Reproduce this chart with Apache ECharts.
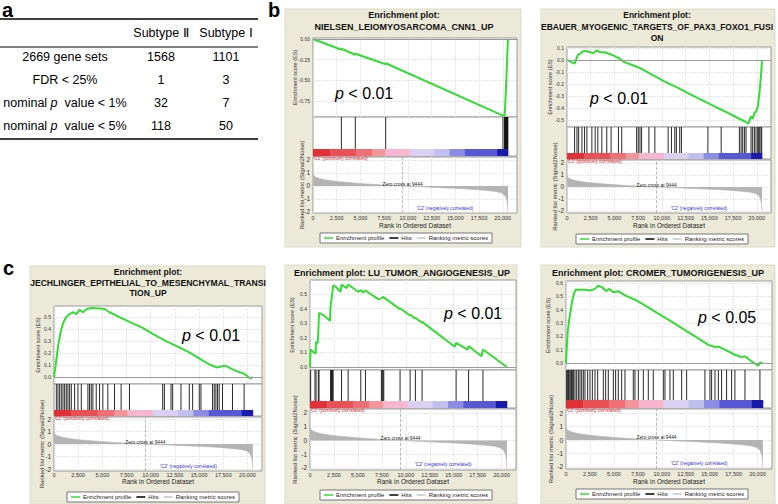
<!DOCTYPE html>
<html>
<head>
<meta charset="utf-8">
<title>GSEA enrichment plots</title>
<script src="https://cdn.jsdelivr.net/npm/echarts@6.0.0/dist/echarts.min.js"></script>
<style>
html,body{margin:0;padding:0;background:#ffffff;}
#chart{width:778px;height:504px;}
</style>
</head>
<body>
<div id="chart"></div>
<script>
// ================= DATA =================
const panelLetters = ['a', 'b', 'c'];

const tableColumns = ['Subtype Ⅱ', 'Subtype Ⅰ'];
const tableRowLabels = ['2669 gene sets', 'FDR < 25%', 'nominal p value < 1%', 'nominal p value < 5%'];
const subtype2Counts = [1568, 1, 32, 118];
const subtype1Counts = [1101, 3, 7, 50];

const rankTicks = [0, 2500, 5000, 7500, 10000, 12500, 15000, 17500, 20000];
const metricTicks = [-2, -1, 0, 1, 2];
const zeroCross = 9444;

// ranked list metric (Signal2Noise), shared by all plots
const metricRanks  = [0, 40, 120, 300, 600, 1000, 1600, 2500, 3500, 4800, 6200, 7800, 9444, 11000, 12500, 14000, 15500, 17000, 18300, 19300, 19900, 20250, 20420, 20500, 20550];
const metricValues = [1.05, 0.9, 0.78, 0.68, 0.6, 0.52, 0.44, 0.35, 0.28, 0.2, 0.13, 0.06, 0, -0.05, -0.1, -0.15, -0.2, -0.27, -0.35, -0.43, -0.55, -0.75, -1.05, -1.45, -2.0];

// colour bar under the hits
const colorBarEdges  = [0, 1800, 4500, 6200, 7600, 10200, 12800, 14400, 16000, 19400, 20550];
const colorBarColors = ['#e23039', '#ea5055', '#ef6f74', '#f39599', '#f7b6ce', '#dad1f2', '#c0bff0', '#8c8ce6', '#5858d6', '#1a1aae'];

// ---- b, left: NIELSEN ----
const titleNielsen = ['Enrichment plot:', 'NIELSEN_LEIOMYOSARCOMA_CNN1_UP'];
const esNielsen = [[0,0],[2990,-0.13],[3000,-0.118],[4460,-0.19],[4470,-0.178],[7660,-0.305],[7670,-0.293],[20020,-0.925],[20030,-0.915],[20180,-0.93],[20250,-0.82],[20330,-0.62],[20400,-0.42],[20460,-0.25],[20510,-0.1],[20550,0]];
const hitsNielsen = [2990, 4460, 7660, 20020, 20180, 20220, 20260, 20300, 20340, 20380, 20420, 20460, 20500, 20540];
const esTicksNielsen = [0, -0.25, -0.5, -0.75];
const pNielsen = 'p < 0.01';

// ---- b, right: EBAUER ----
const titleEbauer = ['Enrichment plot:', 'EBAUER_MYOGENIC_TARGETS_OF_PAX3_FOXO1_FUSI', 'ON'];
const esEbauer = [[0,0],[500,-0.02],[800,-0.03],[950,0.0],[1150,0.045],[1400,0.053],[1650,0.072],[2100,0.072],[2450,0.064],[2800,0.058],[3150,0.08],[3500,0.064],[4000,0.064],[4700,0.044],[5400,0.017],[6100,-0.02],[6800,-0.04],[7700,-0.067],[8900,-0.12],[10300,-0.18],[11700,-0.233],[13100,-0.29],[14500,-0.345],[15900,-0.4],[16950,-0.44],[18000,-0.483],[18700,-0.51],[19100,-0.53],[19400,-0.47],[19570,-0.49],[19750,-0.44],[19920,-0.43],[20100,-0.39],[20200,-0.33],[20310,-0.25],[20420,-0.15],[20500,-0.07],[20550,0]];
const hitsEbauer = [800, 1050, 1225, 1575, 1850, 2100, 2620, 2970, 3250, 3670, 4190, 4650, 5420, 5770, 7340, 7510, 7690, 7860, 8630, 9260, 10660, 11010, 11360, 11530, 11880, 12060, 14850, 16250, 18170, 18350, 18520, 18700, 18870, 19400, 19570, 19750, 19920, 20100, 20200, 20310, 20450, 20520];
const esTicksEbauer = [0.1, 0, -0.1, -0.2, -0.3, -0.4, -0.5];
const pEbauer = 'p < 0.01';

// ---- c, left: JECHLINGER ----
const titleJechlinger = ['Enrichment plot:', 'JECHLINGER_EPITHELIAL_TO_MESENCHYMAL_TRANSI', 'TION_UP'];
const esJechlinger = [[0,0],[240,0.14],[410,0.25],[580,0.33],[760,0.4],[1000,0.46],[1270,0.5],[1615,0.525],[1960,0.54],[2300,0.525],[2645,0.56],[2990,0.54],[3400,0.567],[3850,0.575],[4700,0.572],[5220,0.567],[5740,0.54],[6770,0.5],[8140,0.447],[9170,0.41],[10200,0.36],[11580,0.3],[12950,0.247],[13985,0.206],[14840,0.164],[15500,0.13],[16200,0.1],[16800,0.08],[17400,0.09],[17700,0.095],[18300,0.07],[19000,0.045],[19600,0.03],[20100,0.0],[20300,-0.01],[20550,0]];
const hitsJechlinger = [240, 410, 585, 755, 930, 1100, 1270, 1440, 1615, 1790, 2130, 2475, 2820, 3505, 3675, 3850, 4020, 4365, 4710, 5050, 5565, 6255, 6940, 7800, 11235, 11410, 12095, 12265, 13125, 13985, 14330, 15015, 15190, 16390, 16560, 16735, 16905, 17075, 17420, 18450, 19650];
const esTicksJechlinger = [0, 0.1, 0.2, 0.3, 0.4, 0.5];
const pJechlinger = 'p < 0.01';

// ---- c, middle: LU ----
const titleLu = ['Enrichment plot: LU_TUMOR_ANGIOGENESIS_UP'];
const esLu = [[0,0],[70,0.12],[350,0.103],[590,0.09],[630,0.17],[800,0.165],[870,0.24],[940,0.37],[1400,0.355],[2080,0.316],[2150,0.42],[2260,0.47],[2420,0.56],[2670,0.55],[3190,0.515],[3290,0.565],[3810,0.54],[3980,0.565],[5020,0.515],[5300,0.527],[5540,0.51],[5790,0.524],[7100,0.465],[7450,0.47],[7620,0.48],[9350,0.398],[9400,0.402],[10400,0.354],[10450,0.358],[10950,0.333],[11000,0.337],[11650,0.305],[11700,0.309],[15100,0.138],[15250,0.165],[16450,0.118],[16550,0.144],[17900,0.073],[18050,0.12],[20550,0]];
const hitsLu = [70, 520, 630, 870, 940, 2150, 2200, 2260, 2340, 2420, 3290, 3980, 5300, 5790, 7450, 7540, 7620, 7700, 9400, 10450, 11000, 11700, 15250, 16550, 18050];
const esTicksLu = [0, 0.1, 0.2, 0.3, 0.4, 0.5];
const pLu = 'p < 0.01';

// ---- c, right: CROMER ----
const titleCromer = ['Enrichment plot: CROMER_TUMORIGENESIS_UP'];
const esCromer = [[0,0],[70,0.1],[175,0.235],[310,0.31],[490,0.395],[660,0.47],[835,0.52],[1010,0.55],[1290,0.548],[1980,0.548],[2500,0.543],[3025,0.555],[3375,0.58],[3720,0.568],[4245,0.538],[4490,0.555],[4940,0.53],[5460,0.538],[6155,0.506],[7200,0.474],[8240,0.432],[9630,0.37],[11025,0.31],[12415,0.247],[13810,0.185],[14850,0.136],[15550,0.12],[15900,0.123],[16590,0.1],[17630,0.062],[18330,0.045],[18680,0.05],[19370,0.012],[20070,-0.02],[20240,0.005],[20550,0]];
const hitsCromer = [70, 175, 245, 315, 420, 520, 590, 695, 800, 940, 1115, 1290, 1460, 1635, 1810, 1980, 2260, 2500, 2750, 3025, 3305, 3895, 4140, 4415, 4940, 5180, 5460, 5810, 6155, 7025, 7200, 7550, 8070, 8590, 9110, 10155, 10330, 10850, 11200, 12070, 12590, 14500, 15025, 15200, 15550, 15900, 16240, 16760, 17285, 17630, 18680, 20240];
const esTicksCromer = [0, 0.1, 0.2, 0.3, 0.4, 0.5, 0.6];
const pCromer = 'p < 0.05';

const legendNames = ['Enrichment profile', 'Hits', 'Ranking metric scores'];

// ================= LAYOUT / STYLE =================
const FONT = 'Arial, "Liberation Sans", Helvetica, sans-serif';
const BEIGE = '#ebe9d8';
const GREEN = '#33dd33';
const rankMax = 21500;

const plots = [
  {title: titleNielsen,    es: esNielsen,    hits: hitsNielsen,    esTicks: esTicksNielsen,    dec: 2, p: pNielsen},
  {title: titleEbauer,     es: esEbauer,     hits: hitsEbauer,     esTicks: esTicksEbauer,     dec: 1, p: pEbauer},
  {title: titleJechlinger, es: esJechlinger, hits: hitsJechlinger, esTicks: esTicksJechlinger, dec: 1, p: pJechlinger},
  {title: titleLu,         es: esLu,         hits: hitsLu,         esTicks: esTicksLu,         dec: 1, p: pLu},
  {title: titleCromer,     es: esCromer,     hits: hitsCromer,     esTicks: esTicksCromer,     dec: 1, p: pCromer}
];

const layouts = [
  {box:[285,9,236,238], left:313, width:204, es:[38,79], hits:[117,39], rank:[157,56], esRange:[-0.942,0.012], rkRange:[-2.08,2.23], bar:7, titleX:404, titleY:15, titleStep:12, titleSize:9, p:[335,93], legend:[402,233], esGap:15, rkGap:8, lblMargin:2, nameGap:9},
  {box:[541,9,234,238], left:567, width:204, es:[47,80], hits:[127,32], rank:[160,53], esRange:[-0.558,0.108], rkRange:[-2.17,2.25], bar:6, titleX:657, titleY:15, titleStep:11.5, titleSize:8.5, p:[590,98], legend:[658,234], esGap:14, rkGap:9, lblMargin:2, nameGap:9},
  {box:[30,266,235,238], left:54, width:208, es:[306,78], hits:[384,32], rank:[417,54], esRange:[-0.058,0.592], rkRange:[-2.16,2.16], bar:6, titleX:148, titleY:272, titleStep:10.5, titleSize:8.6, p:[182,335], legend:[149,492], esGap:13, rkGap:9, lblMargin:1, nameGap:7},
  {box:[285,265,232,239], left:310, width:206, es:[280,90], hits:[370,38], rank:[409,61], esRange:[-0.021,0.596], rkRange:[-2.15,2.29], bar:7, titleX:402, titleY:273, titleStep:11, titleSize:9, p:[444,313], legend:[402,490], esGap:15, rkGap:12, lblMargin:1.5, nameGap:8},
  {box:[541,265,234,239], left:566, width:206, es:[281,89], hits:[370,38], rank:[409,60], esRange:[-0.052,0.614], rkRange:[-2.15,2.30], bar:8, titleX:658, titleY:273, titleStep:11, titleSize:9, p:[698,317], legend:[658,489], esGap:15, rkGap:12, lblMargin:2, nameGap:9}
];

const panelLetterPos = [[2,0], [268,0], [3,258]];
const table = {x0:0, x1:258, colX:[65,161,226], headerY:33, rowY0:57, rowStep:23, rules:[[19,1.6],[47,1],[139,1.6]], fontSize:12.5};

// ================= BUILD OPTION =================
const grids = [], xAxes = [], yAxes = [], series = [], legends = [], graphics = [];

function richItalicP(text, size) {
  const idx = text.indexOf(' p ');
  let t;
  if (text.indexOf('p ') === 0) t = '{i|p}{n|' + text.slice(1) + '}';
  else if (idx >= 0) t = '{n|' + text.slice(0, idx + 1) + '}{i|p}{n|  ' + text.slice(idx + 3) + '}';
  else t = '{n|' + text + '}';
  return {
    text: t,
    rich: {
      n: {fontSize: size, fontFamily: FONT, fill: '#000'},
      i: {fontSize: size, fontFamily: FONT, fontStyle: 'italic', fill: '#000'}
    }
  };
}

const gridStyle = {show: true, backgroundColor: '#ffffff', borderColor: '#9a9a9a', borderWidth: 1, containLabel: false, outerBoundsMode: 'none'};
const gridLine = {show: true, lineStyle: {color: '#dedede', type: 'dotted', width: 1}};

plots.forEach((pl, k) => {
  const L = layouts[k];
  const gi = grids.length;
  grids.push(Object.assign({left: L.left, top: L.es[0], width: L.width, height: L.es[1]}, gridStyle));
  grids.push(Object.assign({left: L.left, top: L.hits[0], width: L.width, height: L.hits[1]}, gridStyle));
  grids.push(Object.assign({left: L.left, top: L.rank[0], width: L.width, height: L.rank[1]}, gridStyle));

  const xBase = {type: 'value', min: 0, max: rankMax, axisLine: {show: false}, axisTick: {show: false, customValues: rankTicks}};
  xAxes.push(Object.assign({}, xBase, {gridIndex: gi, axisLabel: {show: false, customValues: rankTicks}, splitLine: gridLine}));
  xAxes.push(Object.assign({}, xBase, {gridIndex: gi + 1, axisLabel: {show: false}, splitLine: {show: false}}));
  xAxes.push(Object.assign({}, xBase, {
    gridIndex: gi + 2,
    axisLabel: {show: true, customValues: rankTicks, fontSize: 5.5, color: '#333', margin: L.lblMargin, fontFamily: FONT,
      formatter: v => Number(v).toLocaleString('en-US')},
    splitLine: gridLine,
    name: 'Rank in Ordered Dataset', nameLocation: 'middle', nameGap: L.nameGap, nameMoveOverlap: false,
    nameTextStyle: {fontSize: 6.5, color: '#222', fontFamily: FONT}
  }));

  yAxes.push({
    type: 'value', gridIndex: gi, min: L.esRange[0], max: L.esRange[1],
    axisLine: {show: false}, axisTick: {show: false, customValues: pl.esTicks},
    axisLabel: {customValues: pl.esTicks, fontSize: 5, color: '#333', margin: 3, fontFamily: FONT, formatter: v => Number(v).toFixed(pl.dec)},
    splitLine: gridLine,
    name: 'Enrichment score (ES)', nameLocation: 'middle', nameGap: L.esGap, nameRotate: 90, nameMoveOverlap: false,
    nameTextStyle: {fontSize: 5.5, color: '#333', fontFamily: FONT}
  });
  yAxes.push({type: 'value', gridIndex: gi + 1, min: 0, max: 1, show: false});
  yAxes.push({
    type: 'value', gridIndex: gi + 2, min: L.rkRange[0], max: L.rkRange[1],
    axisLine: {show: false}, axisTick: {show: false, customValues: metricTicks},
    axisLabel: {customValues: metricTicks, fontSize: 6.5, color: '#333', margin: 3, fontFamily: FONT},
    splitLine: gridLine,
    name: 'Ranked list metric (Signal2Noise)', nameLocation: 'middle', nameGap: L.rkGap, nameRotate: 90, nameMoveOverlap: false,
    nameTextStyle: {fontSize: 6, color: '#333', fontFamily: FONT}
  });

  const barFrac = L.bar / L.hits[1];

  // enrichment profile
  series.push({
    type: 'line', name: legendNames[0], xAxisIndex: gi, yAxisIndex: gi,
    data: pl.es, showSymbol: false, symbol: 'none', z: 4,
    lineStyle: {color: GREEN, width: 2}, itemStyle: {color: GREEN},
    markLine: {silent: true, symbol: ['none', 'none'], label: {show: false},
      lineStyle: {color: '#9a9a9a', type: 'solid', width: 1}, data: [{yAxis: 0}]}
  });

  // hits
  series.push({
    type: 'custom', name: legendNames[1], xAxisIndex: gi + 1, yAxisIndex: gi + 1,
    itemStyle: {color: '#000'},
    data: pl.hits.map(h => [h, 1]),
    renderItem: (params, api) => {
      const x = api.value(0);
      const top = api.coord([x, 1]);
      const bot = api.coord([x, barFrac]);
      return {type: 'line', shape: {x1: top[0], y1: top[1], x2: bot[0], y2: bot[1]},
        style: {stroke: '#111', lineWidth: 0.9}};
    }
  });

  // colour bar
  series.push({
    type: 'custom', name: 'colorbar', xAxisIndex: gi + 1, yAxisIndex: gi + 1, silent: true,
    encode: {x: [0, 1]},
    data: colorBarColors.map((c, i) => [colorBarEdges[i], colorBarEdges[i + 1], i]),
    renderItem: (params, api) => {
      const p0 = api.coord([api.value(0), barFrac]);
      const p1 = api.coord([api.value(1), 0]);
      return {type: 'rect', shape: {x: p0[0], y: p0[1], width: p1[0] - p0[0] + 0.4, height: p1[1] - p0[1]},
        style: {fill: colorBarColors[api.value(2)]}};
    }
  });

  // ranked list metric
  series.push({
    type: 'line', name: legendNames[2], xAxisIndex: gi + 2, yAxisIndex: gi + 2,
    data: metricRanks.map((r, i) => [r, metricValues[i]]),
    showSymbol: false, symbol: 'none',
    lineStyle: {color: '#b4b4b4', width: 0.6}, itemStyle: {color: '#c6c6c6'},
    areaStyle: {color: '#b4b4b4', opacity: 1},
    markLine: {silent: true, symbol: ['none', 'none'], label: {show: false},
      lineStyle: {color: '#aaaaaa', type: 'dashed', width: 0.8}, data: [{xAxis: zeroCross}]},
    markPoint: {silent: true, symbol: 'circle', symbolSize: 0, data: [
      {coord: [zeroCross, 0.15], value: 0, label: {show: true, position: 'inside', formatter: 'Zero cross at ' + zeroCross, fontSize: 4.8, color: '#222', fontFamily: FONT}},
      {coord: [0, L.rkRange[1] - 0.12], value: 0, label: {show: true, position: 'right', distance: 0, formatter: "'C1' (positively correlated)", fontSize: 4.8, color: '#e0303a', fontFamily: FONT}},
      {coord: [13900, -1.77], value: 0, label: {show: true, position: 'inside', formatter: "'C2' (negatively correlated)", fontSize: 4.8, color: '#3333cc', fontFamily: FONT}}
    ]}
  });

  legends.push({
    left: L.legend[0] - 82, top: L.legend[1], orient: 'horizontal', selectedMode: false,
    icon: 'rect', itemWidth: 9, itemHeight: 1.5, itemGap: 5,
    padding: [2, 4], backgroundColor: '#ffffff', borderColor: '#777', borderWidth: 1, borderRadius: 0,
    textStyle: {fontSize: 6, color: '#222', fontFamily: FONT, padding: [0, 0, 0, -2]},
    data: legendNames.slice()
  });

  // beige box
  graphics.push({type: 'rect', z: -10, shape: {x: L.box[0], y: L.box[1], width: L.box[2], height: L.box[3]},
    style: {fill: BEIGE, stroke: '#dddbc8', lineWidth: 1}});
  // titles
  pl.title.forEach((line, j) => {
    graphics.push({type: 'text', z: 5, x: L.titleX, y: L.titleY + j * L.titleStep,
      style: {text: line, fontSize: L.titleSize, fontWeight: 'bold', fontFamily: FONT, fill: '#111', align: 'center', verticalAlign: 'middle'}});
  });
  // p value
  const pr = richItalicP(pl.p, 16);
  graphics.push({type: 'text', z: 10, x: L.p[0], y: L.p[1],
    style: Object.assign({align: 'left', verticalAlign: 'middle', fontSize: 16, fontFamily: FONT}, pr)});
});

// panel letters
panelLetters.forEach((ch, i) => {
  graphics.push({type: 'text', z: 5, x: panelLetterPos[i][0], y: panelLetterPos[i][1],
    style: {text: ch, fontSize: 20, fontWeight: 'bold', fontFamily: FONT, fill: '#000', align: 'left', verticalAlign: 'top'}});
});

// table (panel a)
table.rules.forEach(r => {
  graphics.push({type: 'line', z: 5, shape: {x1: table.x0, y1: r[0], x2: table.x1, y2: r[0]}, style: {stroke: '#000', lineWidth: r[1]}});
});
tableColumns.forEach((c, j) => {
  graphics.push({type: 'text', z: 5, x: table.colX[j + 1], y: table.headerY,
    style: {text: c, fontSize: table.fontSize, fontFamily: FONT, fill: '#000', align: 'center', verticalAlign: 'middle'}});
});
tableRowLabels.forEach((lab, i) => {
  const y = table.rowY0 + i * table.rowStep;
  const rr = richItalicP(lab, table.fontSize);
  graphics.push({type: 'text', z: 5, x: table.colX[0], y: y,
    style: Object.assign({align: 'center', verticalAlign: 'middle', fontSize: table.fontSize, fontFamily: FONT}, rr)});
  graphics.push({type: 'text', z: 5, x: table.colX[1], y: y,
    style: {text: String(subtype2Counts[i]), fontSize: table.fontSize, fontFamily: FONT, fill: '#000', align: 'center', verticalAlign: 'middle'}});
  graphics.push({type: 'text', z: 5, x: table.colX[2], y: y,
    style: {text: String(subtype1Counts[i]), fontSize: table.fontSize, fontFamily: FONT, fill: '#000', align: 'center', verticalAlign: 'middle'}});
});

const chart = echarts.init(document.getElementById('chart'), null, {renderer: 'svg', width: 778, height: 504});
chart.setOption({
  animation: false,
  backgroundColor: '#ffffff',
  textStyle: {fontFamily: FONT},
  grid: grids,
  xAxis: xAxes,
  yAxis: yAxes,
  legend: legends,
  series: series,
  graphic: {elements: graphics}
});
</script>
</body>
</html>
